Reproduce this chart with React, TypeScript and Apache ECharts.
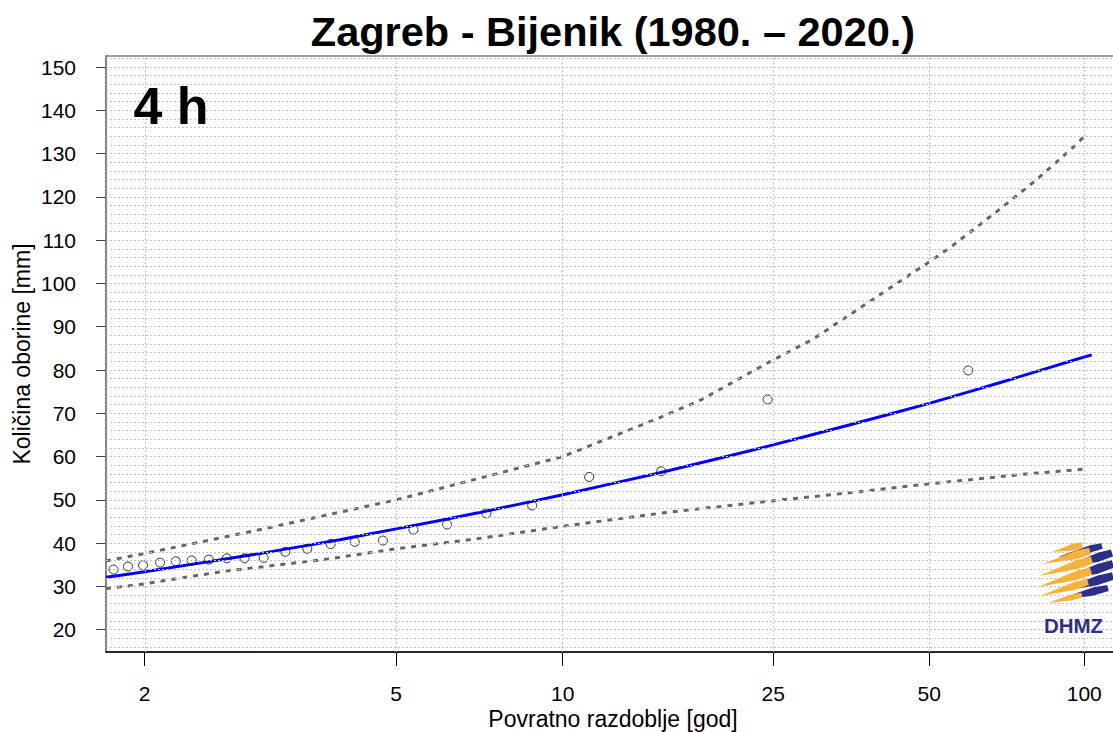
import React, { useEffect, useRef } from "react";
import * as echarts from "echarts";

// ---- data ----
const TITLE = "Zagreb - Bijenik (1980. – 2020.)";
const DURATION = "4 h";
const X_NAME = "Povratno razdoblje [god]";
const Y_NAME = "Količina oborine [mm]";

// x tick labels: return periods [years]
const X_TICKS_T = [2, 5, 10, 25, 50, 100];
// y tick labels [mm]
const Y_TICKS = [20, 30, 40, 50, 60, 70, 80, 90, 100, 110, 120, 130, 140, 150];
// minor horizontal grid lines every 2 mm
const Y_GRID = [16, 18, 20, 22, 24, 26, 28, 30, 32, 34, 36, 38, 40, 42, 44, 46, 48, 50, 52, 54, 56, 58, 60, 62, 64, 66, 68, 70, 72, 74, 76, 78, 80, 82, 84, 86, 88, 90, 92, 94, 96, 98, 100, 102, 104, 106, 108, 110, 112, 114, 116, 118, 120, 122, 124, 126, 128, 130, 132, 134, 136, 138, 140, 142, 144, 146, 148, 150, 152];

// observed annual maxima (plotting positions)
const OBS_T = [1.82, 1.9, 1.99, 2.1, 2.21, 2.33, 2.47, 2.63, 2.8, 3.0, 3.25, 3.53, 3.86, 4.24, 4.74, 5.36, 6.15, 7.24, 8.78, 11.2, 15.3, 24.4, 59.5];
const OBS_MM = [33.9, 34.6, 34.9, 35.5, 35.8, 36.0, 36.2, 36.5, 36.5, 36.6, 38.0, 38.7, 39.8, 40.3, 40.6, 43.1, 44.3, 46.9, 48.7, 55.3, 56.6, 73.2, 79.9];

// fitted distribution
const FIT_T = [1.78, 2, 3, 4, 5, 7, 10, 15, 20, 25, 35, 50, 70, 100, 103.4];
const FIT_MM = [32.1, 33.4, 37.75, 40.8, 43.3, 47.0, 51.2, 56.1, 59.8, 62.7, 67.3, 72.3, 77.4, 83.0, 83.5];

// confidence band upper / lower
const UPPER_T = [1.78, 2, 3, 5, 10, 15, 18.2, 24.7, 29.8, 50, 55.3, 69.6, 80.8, 96.7, 100];
const UPPER_MM = [35.9, 37.6, 43.3, 50.0, 60.0, 68.7, 73.1, 82.0, 87.1, 105.0, 108.6, 117.8, 124.0, 132.2, 134.0];
const LOWER_T = [1.78, 2, 2.6, 3.76, 5, 6.96, 10, 15.9, 25, 33.6, 50, 77.3, 100];
const LOWER_MM = [29.5, 30.6, 33.5, 36.2, 38.7, 41.0, 43.9, 47.2, 49.8, 51.4, 53.7, 56.0, 57.1];

// axis ranges (return period at left/right edge, mm at bottom/top)
const X_MIN_T = 1.78;
const X_MAX_T = 117.4;
const Y_MIN = 14.85;
const Y_MAX = 152.55;

// Gumbel reduced variate scale for return period
const gumbel = (T: number) => -Math.log(-Math.log(1 - 1 / T));

const FONT = "'Liberation Sans', Arial, Helvetica, sans-serif";

function leaf(x1: number, y1: number, x2: number, y2: number, w: number) {
  const dx = x2 - x1, dy = y2 - y1;
  const L = Math.hypot(dx, dy);
  const nx = -dy / L, ny = dx / L;
  return [
    [x1, y1],
    [x1 + dx * 0.7 + (nx * w) / 2, y1 + dy * 0.7 + (ny * w) / 2],
    [x2 + nx * w * 0.4, y2 + ny * w * 0.4],
    [x2 - nx * w * 0.4, y2 - ny * w * 0.4],
    [x1 + dx * 0.75 - (nx * w) / 2, y1 + dy * 0.75 - (ny * w) / 2],
  ];
}

export default function App() {
  const ref = useRef<HTMLDivElement>(null);

  useEffect(() => {
    if (!ref.current) return;
    const chart = echarts.init(ref.current, null, { renderer: "svg" });
    const tickU = X_TICKS_T.map(gumbel);

    const orange = "#F6B23A";
    const navy = "#2E2F86";
    const blades: [number, number, number, number, number, string][] = [
      [1052, 552, 1082, 545, 7, orange],
      [1058, 557, 1102, 546, 7, navy],
      [1043, 564, 1090, 551, 8.5, orange],
      [1060, 569, 1112, 553, 9, navy],
      [1039, 576, 1092, 560, 9, orange],
      [1058, 581, 1113, 564, 9.5, navy],
      [1038, 587, 1091, 571, 9, orange],
      [1056, 592, 1113, 576, 9.5, navy],
      [1040, 596, 1088, 582, 8, orange],
      [1054, 601, 1108, 588, 8, navy],
      [1048, 603, 1082, 595, 6, orange],
    ];

    const option: any = {
      animation: false,
      backgroundColor: "#ffffff",
      title: {
        text: TITLE,
        left: 613,
        top: 10,
        padding: 0,
        textAlign: "center",
        textStyle: { fontFamily: FONT, fontSize: 41.5, fontWeight: "bold", color: "#000" },
      },
      grid: {
        left: 106,
        top: 56,
        width: 1014,
        height: 596,
        show: true,
        borderColor: "#808080",
        borderWidth: 1.5,
        outerBoundsMode: "none",
        containLabel: false,
      },
      xAxis: {
        type: "value",
        min: gumbel(X_MIN_T),
        max: gumbel(X_MAX_T),
        name: X_NAME,
        nameLocation: "middle",
        nameGap: 58,
        nameMoveOverlap: false,
        nameTextStyle: { fontFamily: FONT, fontSize: 23, lineHeight: 18, color: "#000" },
        axisLine: { show: true, lineStyle: { color: "#000", width: 1.5 } },
        axisTick: { show: true, customValues: tickU, length: 14, lineStyle: { color: "#000", width: 1 } },
        axisLabel: {
          customValues: tickU,
          margin: 33,
          fontFamily: FONT,
          fontSize: 21,
          lineHeight: 16,
          color: "#000",
          formatter: (v: number) => {
            const i = tickU.findIndex((t) => Math.abs(t - v) < 1e-6);
            return i >= 0 ? String(X_TICKS_T[i]) : "";
          },
        },
        splitLine: { show: false },
      },
      yAxis: {
        type: "value",
        min: Y_MIN,
        max: Y_MAX,
        name: Y_NAME,
        nameLocation: "middle",
        nameGap: 73,
        nameRotate: 90,
        nameMoveOverlap: false,
        nameTextStyle: { fontFamily: FONT, fontSize: 23, color: "#000" },
        axisLine: { show: true, lineStyle: { color: "#7a7a7a", width: 1.5 } },
        axisTick: { show: true, customValues: Y_TICKS, length: 10, lineStyle: { color: "#444", width: 1 } },
        axisLabel: { customValues: Y_TICKS, margin: 30, fontFamily: FONT, fontSize: 21, color: "#000" },
        splitLine: { show: false },
      },
      series: [
        {
          type: "line",
          name: "grid",
          data: [],
          silent: true,
          z: 0,
          markLine: {
            silent: true,
            symbol: ["none", "none"],
            label: { show: false },
            lineStyle: { color: "#c4c4c4", width: 1, type: [2, 2] },
            emphasis: { disabled: true },
            data: [
              ...Y_GRID.map((v) => ({ yAxis: v })),
              ...tickU.map((u) => ({ xAxis: u })),
            ],
          },
        },
        {
          type: "line",
          name: "upper",
          data: UPPER_T.map((t, i) => [gumbel(t), UPPER_MM[i]]),
          showSymbol: false,
          symbol: "none",
          z: 2,
          lineStyle: { color: "#666", width: 3, type: [5, 6] },
        },
        {
          type: "line",
          name: "lower",
          data: LOWER_T.map((t, i) => [gumbel(t), LOWER_MM[i]]),
          showSymbol: false,
          symbol: "none",
          z: 2,
          lineStyle: { color: "#666", width: 3, type: [5, 6] },
        },
        {
          type: "line",
          name: "fit",
          data: FIT_T.map((t, i) => [gumbel(t), FIT_MM[i]]),
          showSymbol: false,
          symbol: "none",
          smooth: 0.2,
          z: 3,
          lineStyle: { color: "#0000ff", width: 3 },
        },
        {
          type: "scatter",
          name: "observed",
          data: OBS_T.map((t, i) => [gumbel(t), OBS_MM[i]]),
          symbol: "circle",
          symbolSize: 9,
          z: 4,
          itemStyle: { color: "rgba(255,255,255,0)", borderColor: "#000", borderWidth: 1 },
        },
      ],
      graphic: [
        {
          type: "text",
          x: 133.5,
          y: 106,
          z: 10,
          style: {
            text: DURATION,
            fontFamily: FONT,
            fontSize: 52,
            fontWeight: "bold",
            fill: "#000",
            align: "left",
            verticalAlign: "middle",
          },
        },
        ...blades.map((b) => ({
          type: "polygon",
          z: 10,
          shape: { points: leaf(b[0], b[1], b[2], b[3], b[4]) },
          style: { fill: b[5] },
        })),
        {
          type: "text",
          x: 1073.5,
          y: 625,
          z: 10,
          style: {
            text: "DHMZ",
            fontFamily: FONT,
            fontSize: 20.5,
            fontWeight: "bold",
            fill: navy,
            align: "center",
            verticalAlign: "middle",
          },
        },
      ],
    };

    chart.setOption(option);
    return () => chart.dispose();
  }, []);

  return (
    <div
      ref={ref}
      style={{ position: "fixed", left: 0, top: 0, width: 1113, height: 732, background: "#fff" }}
    />
  );
}
